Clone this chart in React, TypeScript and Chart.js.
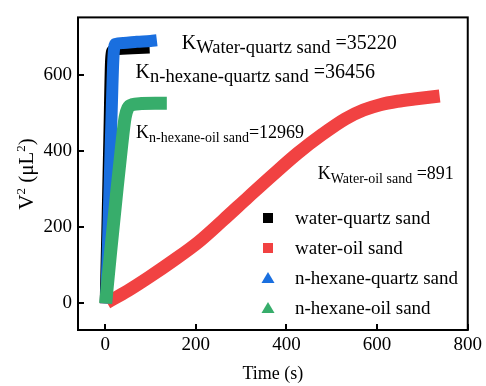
import React, { useEffect, useRef } from "react";
import { Chart, registerables } from "chart.js";

Chart.register(...registerables);

// ---- data ----
const X_TICKS = [0, 200, 400, 600, 800];
const Y_TICKS = [0, 200, 400, 600];

const SERIES_NAMES = ["water-quartz sand", "water-oil sand", "n-hexane-quartz sand", "n-hexane-oil sand"];

const WQ_T = [0, 4, 8, 12, 16, 30, 60, 98];
const WQ_V = [0, 210, 430, 640, 664, 666, 668, 670];

const WO_T = [4, 50, 96, 150, 206, 260, 316, 370, 425, 480, 530, 570, 607, 645, 682, 738];
const WO_V = [2, 33, 68, 112, 161, 218, 279, 337, 394, 444, 484, 507, 521, 530, 536, 544];

const HQ_T = [2, 6, 10, 14, 18, 22, 40, 70, 100, 114];
const HQ_V = [0, 150, 320, 490, 640, 680, 683, 686, 688, 690];

const HO_T = [1, 12, 24, 36, 44, 50, 60, 80, 110, 136];
const HO_V = [0, 135, 275, 410, 488, 512, 521, 524, 525, 525];

const K_SUBS = ["Water-quartz sand", "n-hexane-quartz sand", "n-hexane-oil sand", "Water-oil sand"];
const K_VALUES = [" =35220", " =36456", "=12969", " =891"];
const K_ANCHOR_T = [169, 67, 68, 469];
const K_ANCHOR_V = [667, 590, 433, 326];

// ---- styles ----
const COLORS = ["#000000", "#F14242", "#1A6FDF", "#37AD6B"];
const MARKERS = ["rect", "rect", "triangle", "triangle"];
const WIDTHS = [11, 13, 12, 13];
const K_MAIN_SIZE = [20, 20, 18, 18];
const K_SUB_SIZE = [18.5, 18.5, 14, 14];
const FONT = "'Liberation Serif', 'Times New Roman', serif";

const framePlugin = {
  id: "frame",
  afterDatasetsDraw(chart: any) {
    const { ctx, chartArea: a, scales } = chart;
    ctx.save();
    ctx.strokeStyle = "#000";
    ctx.lineWidth = 2;
    ctx.strokeRect(a.left, a.top, a.right - a.left, a.bottom - a.top);
    ctx.lineWidth = 2;
    ctx.beginPath();
    X_TICKS.forEach((v) => {
      const px = Math.round(scales.x.getPixelForValue(v));
      ctx.moveTo(px, a.bottom);
      ctx.lineTo(px, a.bottom - 6);
    });
    Y_TICKS.forEach((v) => {
      const py = Math.round(scales.y.getPixelForValue(v));
      ctx.moveTo(a.left, py);
      ctx.lineTo(a.left + 6, py);
    });
    ctx.stroke();
    ctx.restore();
  },
  afterDraw(chart: any) {
    const { ctx, chartArea: a, scales } = chart;
    ctx.save();
    ctx.fillStyle = "#000";
    // x axis title
    ctx.font = `18px ${FONT}`;
    ctx.textAlign = "center";
    ctx.textBaseline = "middle";
    ctx.fillText("Time (s)", (a.left + a.right) / 2, 374);

    // y axis title with superscripts
    const parts: [string, number, number][] = [
      ["V", 21, 0],
      ["2", 13, -8],
      [" (\u03BCL", 21, 0],
      ["2", 13, -8],
      [")", 21, 0],
    ];
    ctx.save();
    ctx.translate(33, 174);
    ctx.rotate(-Math.PI / 2);
    ctx.textAlign = "left";
    ctx.textBaseline = "alphabetic";
    let total = 0;
    parts.forEach(([s, size]) => {
      ctx.font = `${size}px ${FONT}`;
      total += ctx.measureText(s).width;
    });
    let px = -total / 2;
    parts.forEach(([s, size, dy]) => {
      ctx.font = `${size}px ${FONT}`;
      ctx.fillText(s, px, dy);
      px += ctx.measureText(s).width;
    });
    ctx.restore();

    // K annotations
    ctx.textAlign = "left";
    ctx.textBaseline = "alphabetic";
    K_SUBS.forEach((sub, i) => {
      let x = scales.x.getPixelForValue(K_ANCHOR_T[i]);
      const y = scales.y.getPixelForValue(K_ANCHOR_V[i]);
      ctx.font = `${K_MAIN_SIZE[i]}px ${FONT}`;
      ctx.fillText("K", x, y);
      x += ctx.measureText("K").width;
      ctx.font = `${K_SUB_SIZE[i]}px ${FONT}`;
      ctx.fillText(sub, x, y + 4);
      x += ctx.measureText(sub).width;
      ctx.font = `${K_MAIN_SIZE[i]}px ${FONT}`;
      ctx.fillText(K_VALUES[i], x, y);
    });

    // legend
    const mx = 268;
    const tx = 295;
    const rows = [218, 248, 278, 308];
    ctx.textBaseline = "middle";
    ctx.font = `19px ${FONT}`;
    SERIES_NAMES.forEach((name, i) => {
      const cy = rows[i];
      ctx.fillStyle = COLORS[i];
      if (MARKERS[i] === "rect") {
        ctx.fillRect(mx - 5, cy - 5, 10, 10);
      } else {
        ctx.beginPath();
        ctx.moveTo(mx, cy - 6);
        ctx.lineTo(mx + 6.5, cy + 5);
        ctx.lineTo(mx - 6.5, cy + 5);
        ctx.closePath();
        ctx.fill();
      }
      ctx.fillStyle = "#000";
      ctx.fillText(name, tx, cy + 1);
    });
    ctx.restore();
  },
};

export default function App() {
  const ref = useRef<HTMLCanvasElement | null>(null);
  useEffect(() => {
    if (!ref.current) return;
    const series = [
      [WQ_T, WQ_V],
      [WO_T, WO_V],
      [HQ_T, HQ_V],
      [HO_T, HO_V],
    ];
    const chart = new Chart(ref.current, {
      type: "line",
      data: {
        datasets: series.map(([t, v], i) => ({
          label: SERIES_NAMES[i],
          data: t.map((tt, j) => ({ x: tt, y: v[j] })),
          borderColor: COLORS[i],
          backgroundColor: COLORS[i],
          borderWidth: WIDTHS[i],
          borderJoinStyle: "round",
          borderCapStyle: "butt",
          cubicInterpolationMode: "monotone",
          pointRadius: 0,
          fill: false,
          order: 3 - i,
        })),
      },
      options: {
        animation: false,
        responsive: false,
        devicePixelRatio: 1,
        layout: { padding: { top: 14, right: 15, left: 0, bottom: 0 } },
        plugins: { legend: { display: false }, tooltip: { enabled: false } },
        scales: {
          x: {
            type: "linear",
            min: -60,
            max: 800,
            afterBuildTicks: (s: any) => {
              s.ticks = X_TICKS.map((v) => ({ value: v }));
            },
            afterFit: (s: any) => {
              s.height = 56;
            },
            grid: { display: false, drawTicks: false },
            border: { display: false },
            ticks: { padding: 4, color: "#000", font: { family: FONT, size: 19 }, maxRotation: 0 },
          },
          y: {
            type: "linear",
            min: -70,
            max: 750,
            afterBuildTicks: (s: any) => {
              s.ticks = Y_TICKS.map((v) => ({ value: v }));
            },
            afterFit: (s: any) => {
              s.width = 78;
            },
            grid: { display: false, drawTicks: false },
            border: { display: false },
            ticks: { padding: 6, color: "#000", font: { family: FONT, size: 19 } },
          },
        },
      },
      plugins: [framePlugin],
    } as any);
    return () => chart.destroy();
  }, []);
  return (
    <div style={{ position: "fixed", left: 0, top: 0, width: 486, height: 386, background: "#fff" }}>
      <canvas ref={ref} width={486} height={386} />
    </div>
  );
}
